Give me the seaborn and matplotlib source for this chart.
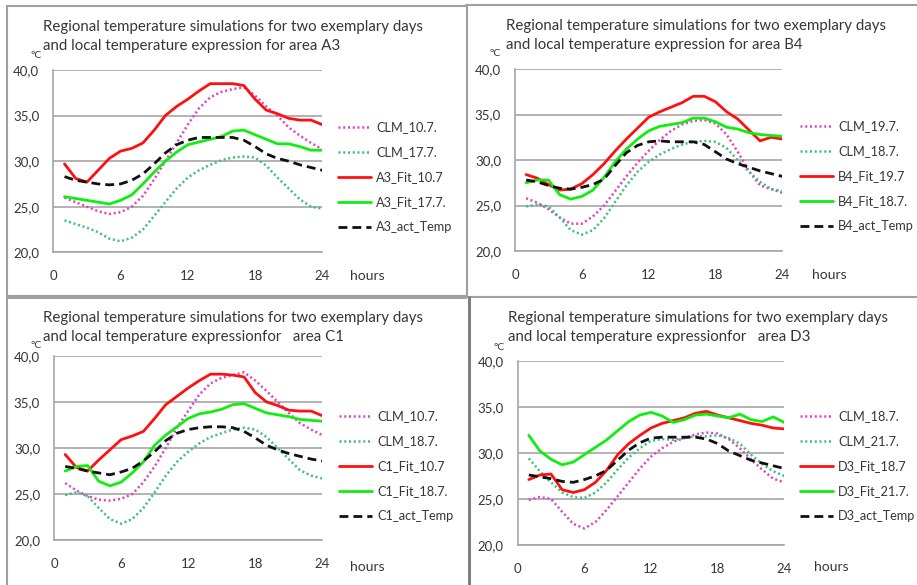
import matplotlib
matplotlib.use("Agg")
import matplotlib.pyplot as plt
from matplotlib.lines import Line2D
import seaborn as sns

hours = list(range(1, 25))

# ---- Area A3 ----
a3_clm_107 = [26.0, 25.5, 25.0, 24.5, 24.2, 24.4, 25.0, 26.2, 28.0, 30.0, 32.0, 34.0,
              35.8, 37.0, 37.6, 37.9, 38.1, 37.2, 36.0, 35.0, 33.7, 32.8, 32.0, 31.3]
a3_clm_177 = [23.5, 23.1, 22.7, 22.2, 21.5, 21.2, 21.6, 22.5, 24.0, 25.5, 27.0, 28.2,
              29.0, 29.6, 30.1, 30.4, 30.5, 30.4, 29.5, 28.2, 27.0, 25.8, 25.0, 24.8]
a3_fit_107 = [29.7, 28.1, 27.7, 29.0, 30.3, 31.1, 31.4, 32.0, 33.4, 35.0, 36.0, 36.8,
              37.7, 38.5, 38.5, 38.5, 38.3, 36.8, 35.6, 35.2, 34.7, 34.5, 34.5, 34.0]
a3_fit_177 = [26.1, 25.9, 25.7, 25.5, 25.3, 25.7, 26.3, 27.5, 28.8, 30.0, 31.0, 31.8,
              32.1, 32.4, 32.7, 33.3, 33.4, 32.9, 32.4, 31.9, 31.9, 31.6, 31.2, 31.2]
a3_act = [28.3, 27.9, 27.7, 27.5, 27.4, 27.5, 27.9, 28.6, 29.7, 30.9, 31.8, 32.3,
          32.6, 32.6, 32.6, 32.6, 32.3, 31.6, 30.8, 30.3, 30.0, 29.6, 29.3, 29.0]

# ---- Area B4 ----
b4_clm_197 = [25.8, 25.3, 24.6, 23.7, 23.0, 23.0, 23.8, 25.0, 26.6, 28.2, 29.7, 31.0,
              32.2, 33.2, 33.9, 34.3, 34.4, 34.0, 32.8, 30.9, 28.8, 27.2, 26.8, 26.4]
b4_clm_187 = [24.9, 25.1, 24.9, 23.7, 22.3, 21.8, 22.3, 23.6, 25.4, 27.2, 28.7, 29.8,
              30.6, 31.2, 31.7, 32.0, 32.1, 32.0, 31.3, 30.0, 28.7, 27.6, 26.8, 26.6]
b4_fit_197 = [28.4, 28.0, 27.3, 26.7, 26.8, 27.4, 28.4, 29.6, 31.0, 32.3, 33.5, 34.7,
              35.3, 35.8, 36.3, 37.0, 37.0, 36.4, 35.3, 34.5, 33.3, 32.1, 32.5, 32.3]
b4_fit_187 = [27.5, 27.8, 27.8, 26.2, 25.7, 26.0, 26.7, 28.1, 29.8, 31.2, 32.3, 33.2,
              33.7, 33.9, 34.1, 34.6, 34.6, 34.2, 33.6, 33.4, 33.0, 32.8, 32.7, 32.6]
b4_act = [27.8, 27.6, 27.2, 26.9, 26.8, 27.0, 27.3, 27.9, 29.4, 30.8, 31.6, 32.0,
          32.1, 32.0, 32.0, 32.0, 31.7, 30.9, 30.1, 29.6, 29.2, 28.8, 28.5, 28.2]

# ---- Area C1 ----
c1_clm_107 = [26.2, 25.4, 24.8, 24.4, 24.3, 24.5, 25.0, 26.3, 28.0, 30.0, 32.2, 34.0,
              35.8, 37.0, 37.6, 37.9, 38.2, 37.3, 36.2, 35.0, 33.8, 32.7, 32.0, 31.4]
c1_clm_187 = [24.9, 25.2, 24.8, 23.5, 22.3, 21.8, 22.3, 23.5, 25.2, 27.0, 28.5, 29.6,
              30.5, 31.2, 31.6, 32.0, 32.2, 32.0, 31.2, 30.0, 28.8, 27.6, 27.0, 26.7]
c1_fit_107 = [29.3, 27.9, 27.5, 28.7, 29.8, 30.9, 31.3, 31.8, 33.2, 34.7, 35.6, 36.5,
              37.3, 38.0, 38.0, 37.9, 37.7, 36.0, 35.0, 34.6, 34.1, 34.0, 34.0, 33.5]
c1_fit_187 = [27.5, 28.0, 28.1, 26.4, 25.9, 26.3, 27.3, 28.5, 30.3, 31.4, 32.3, 33.2,
              33.7, 33.9, 34.2, 34.7, 34.8, 34.3, 33.8, 33.6, 33.4, 33.1, 33.0, 32.9]
c1_act = [28.0, 27.8, 27.5, 27.3, 27.1, 27.4, 27.8, 28.6, 29.6, 30.8, 31.6, 32.0,
          32.2, 32.3, 32.3, 32.2, 31.8, 31.1, 30.3, 29.8, 29.4, 29.1, 28.8, 28.6]

# ---- Area D3 ----
d3_clm_187 = [24.9, 25.2, 25.0, 23.6, 22.3, 21.8, 22.5, 23.8, 25.3, 26.8, 28.3, 29.6,
              30.5, 31.2, 31.6, 32.0, 32.2, 32.1, 31.5, 30.5, 29.3, 28.2, 27.2, 26.8]
d3_clm_217 = [29.4, 28.0, 26.8, 25.7, 25.2, 25.1, 25.7, 26.8, 28.2, 29.5, 30.5, 31.3,
              31.5, 31.4, 31.6, 31.8, 31.8, 31.9, 31.6, 31.0, 29.8, 28.8, 28.0, 27.5]
d3_fit_187 = [27.1, 27.6, 27.7, 26.0, 25.7, 26.0, 26.8, 28.1, 29.8, 31.0, 31.9, 32.7,
              33.2, 33.5, 33.8, 34.3, 34.5, 34.1, 33.8, 33.5, 33.2, 33.0, 32.7, 32.6]
d3_fit_217 = [31.9, 30.2, 29.3, 28.7, 29.0, 29.8, 30.6, 31.4, 32.4, 33.4, 34.1, 34.4,
              34.0, 33.3, 33.6, 34.1, 34.2, 34.0, 33.8, 34.2, 33.6, 33.4, 33.9, 33.3]
d3_act = [27.6, 27.4, 27.2, 26.9, 26.8, 27.1, 27.5, 28.1, 29.2, 30.3, 31.1, 31.6,
          31.7, 31.7, 31.7, 31.7, 31.5, 31.0, 30.2, 29.7, 29.2, 28.9, 28.6, 28.3]

title_line1 = "Regional temperature simulations for two exemplary days"
titles = ["and local temperature expression for area A3",
          "and local temperature expression for area B4",
          "and local temperature expressionfor   area C1",
          "and local temperature expressionfor   area D3"]
labels = [["CLM_10.7.", "CLM_17.7.", "A3_Fit_10.7", "A3_Fit_17.7.", "A3_act_Temp"],
          ["CLM_19.7.", "CLM_18.7.", "B4_Fit_19.7", "B4_Fit_18.7.", "B4_act_Temp"],
          ["CLM_10.7.", "CLM_18.7.", "C1_Fit_10.7", "C1_Fit_18.7.", "C1_act_Temp"],
          ["CLM_18.7.", "CLM_21.7.", "D3_Fit_18.7", "D3_Fit_21.7.", "D3_act_Temp"]]
series = [[a3_clm_107, a3_clm_177, a3_fit_107, a3_fit_177, a3_act],
          [b4_clm_197, b4_clm_187, b4_fit_197, b4_fit_187, b4_act],
          [c1_clm_107, c1_clm_187, c1_fit_107, c1_fit_187, c1_act],
          [d3_clm_187, d3_clm_217, d3_fit_187, d3_fit_217, d3_act]]
x_ticks = [0, 6, 12, 18, 24]
y_ticks = [20, 25, 30, 35, 40]
y_ticklabels = ["20,0", "25,0", "30,0", "35,0", "40,0"]

sns.set_style("white")
plt.rcParams['font.family'] = ['Lato', 'DejaVu Sans']

W, H = 917, 585
fig = plt.figure(figsize=(W / 100, H / 100), dpi=100)
fig.patch.set_facecolor("white")

styles = [dict(color="#e040c8", linestyle=(0, (0.8, 1.1)), linewidth=1.8),
          dict(color="#3cbf7a", linestyle=(0, (0.8, 1.1)), linewidth=1.8),
          dict(color="#ff1010", linestyle="-", linewidth=2.0),
          dict(color="#10ee10", linestyle="-", linewidth=2.0),
          dict(color="#111111", linestyle=(0, (3.2, 1.8)), linewidth=2.0)]

# pixel geometry: plot area (x0, x24, y40, y20), title origin, legend, labels
panels = [
    dict(box=(53.3, 322.3, 70, 252.3), title=(43, 27), leg=(338, 129), hours=(350, 276), degc=(36, 55)),
    dict(box=(515, 782.3, 69, 251), title=(506, 26), leg=(800, 128), hours=(812, 275), degc=(495, 53)),
    dict(box=(54, 322.3, 355.7, 540.3), title=(43, 318), leg=(339, 418), hours=(350, 567), degc=(36, 345)),
    dict(box=(517.7, 784.3, 360.7, 545), title=(508, 318), leg=(800, 418), hours=(814, 567), degc=(499, 347)),
]

txt_col = "#363636"
grid_col = "#a6a6a6"

for i, p in enumerate(panels):
    x0, x1, yt, yb = p["box"]
    ax = fig.add_axes([x0 / W, 1 - yb / H, (x1 - x0) / W, (yb - yt) / H])
    ax.set_facecolor("none")
    for vals, st, lab in zip(series[i], styles, labels[i]):
        sns.lineplot(x=hours, y=vals, ax=ax, label=lab, **st)
    ax.set_xlim(0, 24)
    ax.set_ylim(20, 40)
    ax.set_xticks(x_ticks)
    ax.set_yticks(y_ticks)
    ax.set_yticklabels(y_ticklabels)
    ax.set_xlabel("")
    ax.set_ylabel("")
    ax.grid(axis="y", color=grid_col, linewidth=1.2)
    ax.grid(axis="x", visible=False)
    for s in ["top", "right"]:
        ax.spines[s].set_visible(False)
    for s in ["left", "bottom"]:
        ax.spines[s].set_color(grid_col)
        ax.spines[s].set_linewidth(1.2)
    ax.tick_params(axis="both", which="both", length=4, width=1.2, color=grid_col,
                   labelsize=9.5, labelcolor=txt_col, direction="out")
    ax.tick_params(axis="y", pad=6)
    ax.tick_params(axis="x", pad=9)
    ax.set_axisbelow(True)

    handles, labs = ax.get_legend_handles_labels()
    lx, ly = p["leg"]
    leg = ax.legend(handles, labs, loc="upper left",
                    bbox_to_anchor=(lx / W, 1 - (ly - 8) / H), bbox_transform=fig.transFigure,
                    frameon=False, fontsize=9.2, handlelength=2.6, handletextpad=0.4,
                    labelspacing=1.02, borderpad=0, borderaxespad=0)
    for t in leg.get_texts():
        t.set_color(txt_col)

    tx, ty = p["title"]
    fig.text(tx / W, 1 - ty / H, title_line1, fontsize=10.8, color=txt_col, ha="left", va="center")
    fig.text(tx / W, 1 - (ty + 19) / H, titles[i], fontsize=10.8, color=txt_col, ha="left", va="center")
    hx, hy = p["hours"]
    fig.text(hx / W, 1 - hy / H, "hours", fontsize=10, color=txt_col, ha="left", va="center")
    cx, cy = p["degc"]
    fig.text(cx / W, 1 - cy / H, "°C", fontsize=7.5, color=txt_col, ha="center", va="center")

# panel frames
def hline(y, xa, xb, col="#a0a0a0", lw=1.5):
    fig.add_artist(Line2D([xa / W, xb / W], [1 - y / H, 1 - y / H], color=col, linewidth=lw))

def vline(x, ya, yb, col="#a0a0a0", lw=1.5):
    fig.add_artist(Line2D([x / W, x / W], [1 - ya / H, 1 - yb / H], color=col, linewidth=lw))

hline(6, 7, 466)
hline(5, 466, 917)
vline(7, 6, 296)
vline(466.5, 5, 296)
hline(296, 7, 466)
hline(296.5, 466, 917)
vline(7, 297, 585)
vline(469.5, 297, 585, col="#808080", lw=2.2)
hline(297.5, 7, 466)

fig.savefig("out.png", dpi=100, facecolor="white")
